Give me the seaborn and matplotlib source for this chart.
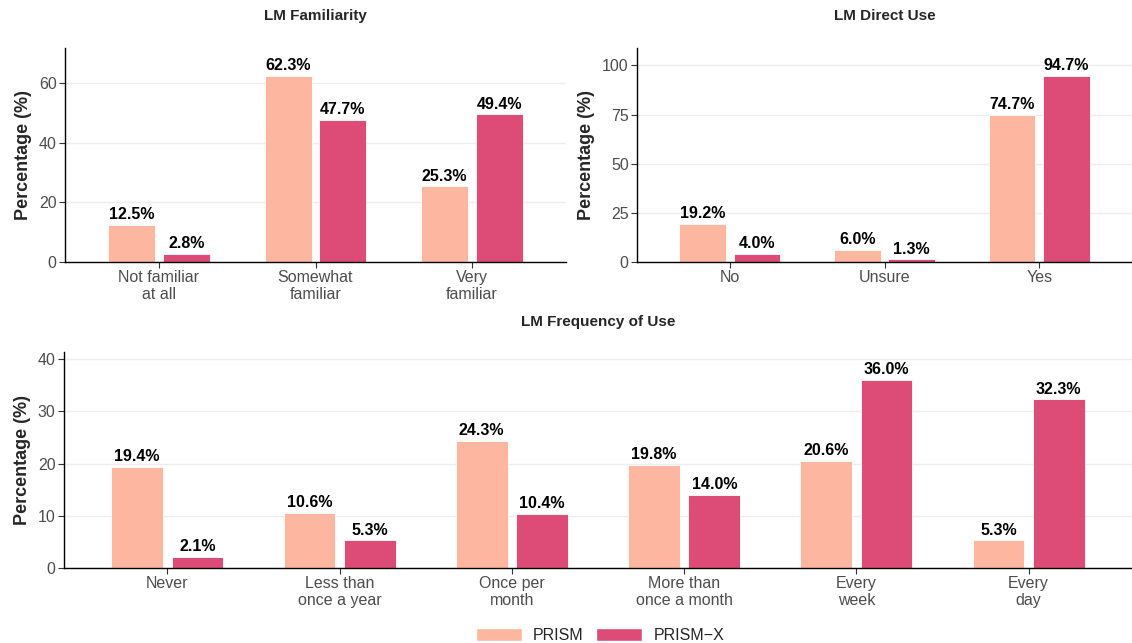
import pandas as pd
import matplotlib
matplotlib.use("Agg")
import matplotlib.pyplot as plt
from matplotlib.patches import Patch
from matplotlib.ticker import MultipleLocator
import seaborn as sns

# --- data ---
groups = ["PRISM", "PRISM\u2212X"]
colors = ["#FDB7A0", "#DD4C77"]

familiarity_cats = ["Not familiar\nat all", "Somewhat\nfamiliar", "Very\nfamiliar"]
familiarity_prism = [12.5, 62.3, 25.3]
familiarity_prismx = [2.8, 47.7, 49.4]

direct_cats = ["No", "Unsure", "Yes"]
direct_prism = [19.2, 6.0, 74.7]
direct_prismx = [4.0, 1.3, 94.7]

freq_cats = ["Never", "Less than\nonce a year", "Once per\nmonth",
             "More than\nonce a month", "Every\nweek", "Every\nday"]
freq_prism = [19.4, 10.6, 24.3, 19.8, 20.6, 5.3]
freq_prismx = [2.1, 5.3, 10.4, 14.0, 36.0, 32.3]

sns.set_theme(style="white")
plt.rcParams["font.family"] = ["Liberation Sans", "DejaVu Sans"]

W, H = 1132, 643
fig = plt.figure(figsize=(W / 100, H / 100), dpi=100)


def px_axes(left, right, top, bottom):
    return fig.add_axes([left / W, 1 - bottom / H, (right - left) / W, (bottom - top) / H])


def make_df(cats, a, b):
    rows = []
    for c, v in zip(cats, a):
        rows.append({"cat": c, "group": groups[0], "val": v})
    for c, v in zip(cats, b):
        rows.append({"cat": c, "group": groups[1], "val": v})
    return pd.DataFrame(rows)


def panel(ax, cats, a, b, title, step, title_pad):
    df = make_df(cats, a, b)
    sns.barplot(data=df, x="cat", y="val", hue="group", order=cats, hue_order=groups,
                palette=colors, width=0.7, gap=0.14, edgecolor="white", linewidth=0.6,
                saturation=1, legend=False, ax=ax, errorbar=None)
    for cont in ax.containers:
        ax.bar_label(cont, fmt="{:.1f}%", padding=2, fontsize=11.5, fontweight="bold",
                     color="black")
    ax.set_xlim(-0.6, len(cats) - 0.4)
    ax.set_ylim(0, max(max(a), max(b)) * 1.15)
    ax.yaxis.set_major_locator(MultipleLocator(step))
    ax.grid(axis="y", color="#EDEDED", linewidth=1.0)
    ax.set_axisbelow(True)
    for s in ["top", "right"]:
        ax.spines[s].set_visible(False)
    for s in ["left", "bottom"]:
        ax.spines[s].set_color("black")
        ax.spines[s].set_linewidth(1.0)
    ax.tick_params(axis="both", which="major", length=4, width=0.8, color="#333333",
                   labelsize=11.5, labelcolor="#4D4D4D", pad=2, bottom=True, left=True)
    for lbl in ax.get_xticklabels():
        lbl.set_linespacing(1.15)
    ax.set_xlabel("")
    ax.set_ylabel("Percentage (%)", fontsize=13, fontweight="bold", labelpad=5)
    ax.set_title(title, fontsize=11, fontweight="bold", pad=title_pad)


ax1 = px_axes(65, 566, 48, 262)
panel(ax1, familiarity_cats, familiarity_prism, familiarity_prismx, "LM Familiarity", 20, 20)

ax2 = px_axes(637, 1132, 48, 262)
panel(ax2, direct_cats, direct_prism, direct_prismx, "LM Direct Use", 25, 20)

ax3 = px_axes(64, 1132, 352, 568)
panel(ax3, freq_cats, freq_prism, freq_prismx, "LM Frequency of Use", 10, 18.5)

handles = [Patch(facecolor=c, edgecolor="white", label=g) for c, g in zip(colors, groups)]
fig.legend(handles=handles, loc="lower center", bbox_to_anchor=(0.53, -0.022), ncol=2,
           frameon=False, fontsize=11.5, handlelength=2.9, handleheight=0.85,
           columnspacing=0.75, handletextpad=0.7)

fig.savefig("out.png", dpi=100, facecolor="white")
